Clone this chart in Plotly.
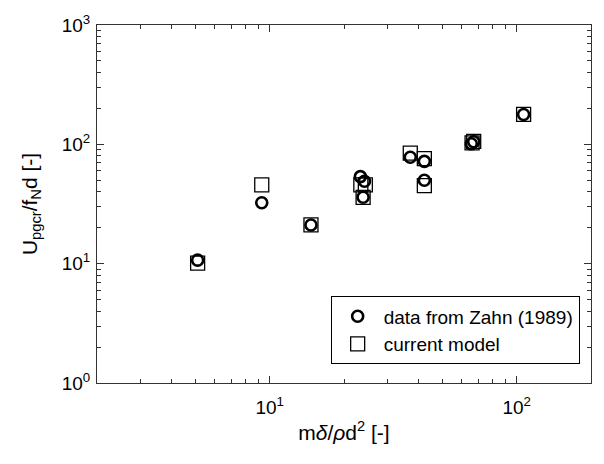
import plotly.graph_objects as go

# Data (log-log)
zahn_x = [5.11, 9.29, 14.7, 23.3, 24.2, 23.9, 37.1, 42.3, 42.3, 65.5, 67.0, 106.7]
zahn_y = [10.7, 32.4, 21.1, 53.6, 49.0, 36.0, 78.0, 72.0, 50.0, 101.0, 105.0, 178.0]

model_x = [5.11, 9.29, 14.7, 23.4, 24.4, 23.9, 37.1, 42.3, 42.3, 66.0, 67.0, 106.7]
model_y = [10.1, 45.8, 21.1, 45.8, 45.8, 36.0, 84.5, 76.0, 45.0, 103.0, 106.0, 178.0]

x_tickvals = [10, 100]
x_ticktext = ["10<sup>1</sup>", "10<sup>2</sup>"]
y_tickvals = [1, 10, 100, 1000]
y_ticktext = ["10<sup>0</sup>", "10<sup>1</sup>", "10<sup>2</sup>", "10<sup>3</sup>"]

FONT = "Liberation Sans, Arial, Helvetica, sans-serif"

fig = go.Figure()
fig.add_trace(go.Scatter(
    x=model_x, y=model_y, mode="markers", name="current model",
    marker=dict(symbol="square-open", size=14, color="black", line=dict(width=1.3, color="black")),
    legendrank=2,
))
fig.add_trace(go.Scatter(
    x=zahn_x, y=zahn_y, mode="markers", name="data from Zahn (1989)",
    marker=dict(symbol="circle-open", size=11, color="black", line=dict(width=2.6, color="black")),
    legendrank=1,
))

axis_common = dict(
    type="log", showgrid=False, zeroline=False, showline=True, linecolor="#333",
    linewidth=1, mirror="ticks", ticks="inside", ticklen=7, tickcolor="#333",
    tickfont=dict(family=FONT, size=19, color="black"),
    minor=dict(ticks="inside", ticklen=4, tickcolor="#333", dtick="D1", showgrid=False),
)

fig.update_layout(
    width=604, height=464,
    margin=dict(l=97, r=12, t=15, b=81),
    paper_bgcolor="white", plot_bgcolor="white",
    font=dict(family=FONT, color="black"),
    xaxis=dict(
        axis_common, range=[0.30103, 2.30103],
        tickvals=x_tickvals, ticktext=x_ticktext, ticklabelstandoff=7,
        title=dict(text="m<i>δ</i>/<i>ρ</i>d<sup>2</sup> [-]", font=dict(size=21), standoff=8),
    ),
    yaxis=dict(
        axis_common, range=[0, 3],
        tickvals=y_tickvals, ticktext=y_ticktext, ticklabelstandoff=2,
        title=dict(text="U<sub>pgcr</sub>/f<sub>N</sub>d [-]", font=dict(size=21), standoff=18),
    ),
    legend=dict(
        x=0.473, y=0.052, xanchor="left", yanchor="bottom",
        bordercolor="black", borderwidth=1, bgcolor="white",
        font=dict(family=FONT, size=19), itemwidth=42,
        tracegroupgap=0,
    ),
    showlegend=True,
)

fig.write_html("out.html")
